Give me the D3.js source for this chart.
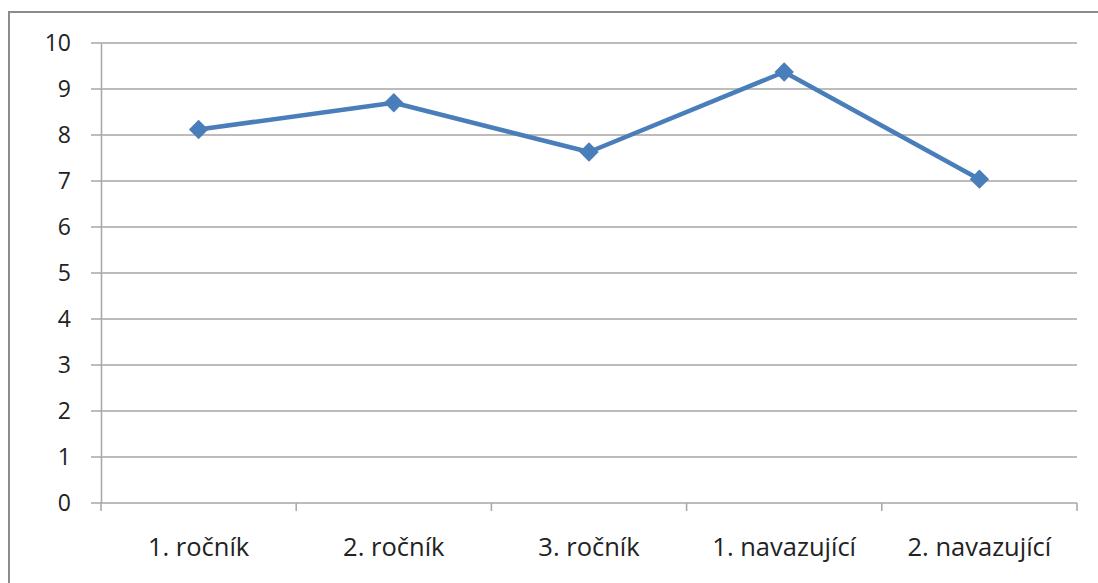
<!DOCTYPE html>
<html>
<head>
<meta charset="utf-8">
<script src="https://cdn.jsdelivr.net/npm/d3@7"></script>
<style>
  body { margin: 0; background: #fff; }
  svg { display: block; }
</style>
</head>
<body>
<div id="chart"></div>
<script>
// data
const categories = ["1. ročník", "2. ročník", "3. ročník", "1. navazující", "2. navazující"];
const values = [8.12, 8.70, 7.63, 9.37, 7.04];
const yTicks = [0, 1, 2, 3, 4, 5, 6, 7, 8, 9, 10];

const W = 1098, H = 583;
const margin = {top: 43, right: 21, bottom: 80, left: 101};
const width = W - margin.left - margin.right,
      height = H - margin.top - margin.bottom;

const svg = d3.select("#chart").append("svg")
    .attr("width", W)
    .attr("height", H);

// outer frame (cropped on the right and bottom)
svg.append("path")
    .attr("fill", "none")
    .attr("stroke", "#8c8c8c")
    .attr("stroke-width", 2)
    .attr("d", `M9,${H + 5}L9,12L${W + 5},12`);

const g = svg.append("g")
    .attr("transform", "translate(" + margin.left + "," + margin.top + ")");

const x = d3.scaleBand()
    .domain(categories)
    .range([0, width]);

const y = d3.scaleLinear()
    .domain([0, 10])
    .range([height, 0]);

// gridlines
g.append("g")
    .selectAll("line")
    .data(yTicks)
    .join("line")
    .attr("x1", -10)
    .attr("x2", width)
    .attr("y1", d => y(d))
    .attr("y2", d => y(d))
    .attr("stroke", "#a6a6a6")
    .attr("stroke-width", 1.5);

// y axis
const yAxis = g.append("g")
    .call(d3.axisLeft(y).tickValues(yTicks).tickSize(0).tickPadding(30));
yAxis.select(".domain").attr("stroke", "#a6a6a6").attr("stroke-width", 1.5);
yAxis.selectAll("text")
    .attr("font-family", "'Open Sans', sans-serif")
    .attr("font-size", 23)
    .attr("fill", "#222");

// x axis with ticks at band edges
const xAxis = g.append("g")
    .attr("transform", "translate(0," + height + ")");
xAxis.append("g")
    .selectAll("line")
    .data(d3.range(categories.length + 1))
    .join("line")
    .attr("x1", i => i * x.bandwidth())
    .attr("x2", i => i * x.bandwidth())
    .attr("y1", 0)
    .attr("y2", 8)
    .attr("stroke", "#a6a6a6")
    .attr("stroke-width", 1.5);
xAxis.append("g")
    .selectAll("text")
    .data(categories)
    .join("text")
    .attr("x", d => x(d) + x.bandwidth() / 2)
    .attr("y", 53)
    .attr("text-anchor", "middle")
    .attr("font-family", "'Open Sans', sans-serif")
    .attr("font-size", 25.5)
    .attr("fill", "#222")
    .text(d => d);

// the line
const line = d3.line()
    .x((d, i) => x(categories[i]) + x.bandwidth() / 2)
    .y(d => y(d));

g.append("path")
    .datum(values)
    .attr("fill", "none")
    .attr("stroke", "#4a7ebb")
    .attr("stroke-width", 4.5)
    .attr("stroke-linejoin", "round")
    .attr("d", line);

// diamond markers
g.append("g")
    .selectAll("path")
    .data(values)
    .join("path")
    .attr("transform", (d, i) => "translate(" + (x(categories[i]) + x.bandwidth() / 2) + "," + y(d) + ")")
    .attr("d", d3.symbol().type(d3.symbolDiamond2).size(240))
    .attr("fill", "#4a7ebb");
</script>
</body>
</html>
